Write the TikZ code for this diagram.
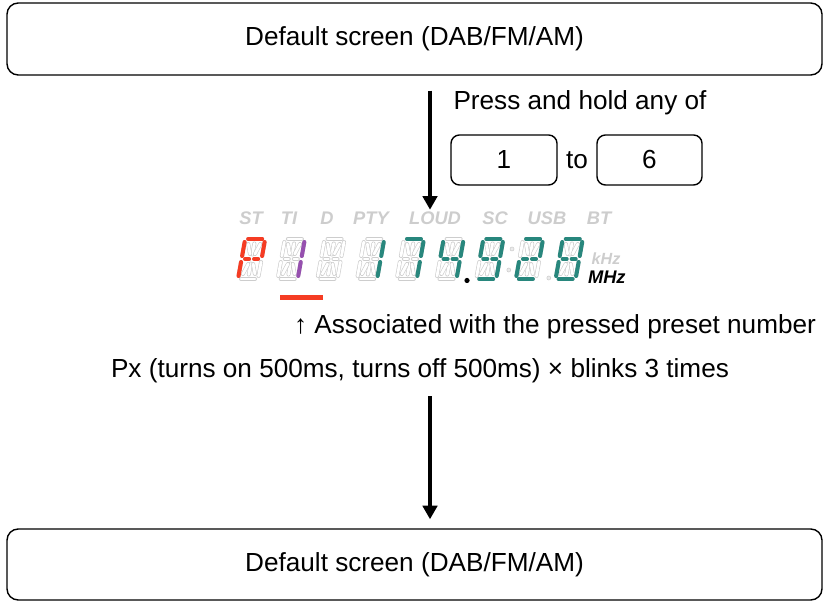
\documentclass[tikz,border=0pt]{standalone}
\usepackage{fontspec}
\setmainfont{Liberation Sans}
\usetikzlibrary{arrows.meta}
\definecolor{lcdred}{RGB}{245, 60, 35}
\definecolor{lcdpurple}{RGB}{150, 80, 175}
\definecolor{lcdteal}{RGB}{40, 135, 125}
\definecolor{lcdgray}{RGB}{205, 205, 205}

% centre lines of the 14 segments of one cell (local units)
\expandafter\def\csname lcdsega\endcsname{(3,40) -- (17,40)}
\expandafter\def\csname lcdsegb\endcsname{(20,37) -- (20,23)}
\expandafter\def\csname lcdsegc\endcsname{(20,17) -- (20,3)}
\expandafter\def\csname lcdsegd\endcsname{(3,0) -- (17,0)}
\expandafter\def\csname lcdsege\endcsname{(0,17) -- (0,3)}
\expandafter\def\csname lcdsegf\endcsname{(0,37) -- (0,23)}
\expandafter\def\csname lcdsegg\endcsname{(3.5,20) -- (7.5,20)}
\expandafter\def\csname lcdsegh\endcsname{(12.5,20) -- (16.5,20)}
\expandafter\def\csname lcdsegi\endcsname{(10,35.5) -- (10,24.5)}
\expandafter\def\csname lcdsegj\endcsname{(10,15.5) -- (10,4.5)}
\expandafter\def\csname lcdsegk\endcsname{(4,35) -- (7.5,25)}
\expandafter\def\csname lcdsegl\endcsname{(16,35) -- (12.5,25)}
\expandafter\def\csname lcdsegm\endcsname{(4,5) -- (7.5,15)}
\expandafter\def\csname lcdsegn\endcsname{(16,5) -- (12.5,15)}
\newcommand{\lcdpath}[1]{\csname lcdseg#1\endcsname}

% empty cell: every segment as a pale outline
\newcommand{\lcdcell}[1]{%
  \begin{scope}[lcdcell=#1]
    \foreach \s in {a,b,c,d,e,f,g,h,i,j,k,l,m,n}
      \draw[segoff] \lcdpath{\s};
  \end{scope}}
% lit segments of a cell
\newcommand{\lcdlit}[3]{%
  \begin{scope}[lcdcell=#1]
    \foreach \s in {#3}
      \draw[segon=#2] \lcdpath{\s};
  \end{scope}}

\begin{document}
\begin{tikzpicture}[
    font=\fontsize{18.6}{22}\selectfont,
    screenbox/.style={draw, line width=1pt, rounded corners=8pt, minimum width=20.375cm},
    keybox/.style={draw, line width=1pt, rounded corners=6pt, minimum height=1.25cm},
    flow/.style={-{Triangle[width=0.36cm, length=0.34cm]}, line width=2.4pt},
    lcdicon/.style={font=\fontsize{13}{13}\selectfont\bfseries\itshape, text=lcdgray},
    segoff/.style={draw=lcdgray, line width=0.45pt, double=white, double distance=1.95pt, line cap=round},
    segon/.style={draw=#1, line width=2.85pt, line cap=round},
    lcdcell/.style={shift={(5.95+0.9925*#1, 8.075)}, xslant=0.18, scale=0.025}
  ]
  \useasboundingbox (0,0) rectangle (20.65,15.05);

  % Start screen and key press
  \node[screenbox, minimum height=1.8cm] (scrtop) at (10.3625, 14.075) {Default screen (DAB/FM/AM)};
  \node (presstext) at (14.5, 12.475) {Press and hold any of};
  \node[keybox, minimum width=2.65cm] (keyone) at (12.6, 11.05) {1};
  \node (keyto) at (14.425, 11.05) {to};
  \node[keybox, minimum width=2.625cm] (keysix) at (16.2375, 11.05) {6};

  % Display
  \node[minimum width=9.75cm, minimum height=2.25cm] (lcd) at (10.75, 8.675) {};
  \foreach \t/\x in {ST/6.275, TI/7.225, D/8.175, PTY/9.275, LOUD/10.875, SC/12.375, USB/13.675, BT/14.975}
    \node[lcdicon] (icon\t) at (\x, 9.6) {\t};

  \foreach \c in {0,...,8}
    \lcdcell{\c};
  \lcdlit{0}{lcdred}{a,b,e,f,g,h}
  \lcdlit{1}{lcdpurple}{b,c}
  \lcdlit{3}{lcdteal}{b,c}
  \lcdlit{4}{lcdteal}{a,b,c}
  \lcdlit{5}{lcdteal}{b,c,f,g,h}
  \lcdlit{6}{lcdteal}{a,b,c,d,f,g,h}
  \lcdlit{7}{lcdteal}{a,b,d,e,g,h}
  \lcdlit{8}{lcdteal}{a,b,c,d,e,f,g,h}

  \fill (11.675, 8.0375) circle (0.065);
  \draw[lcdgray, fill=lcdgray!40] (12.8, 8.825) circle (0.05);
  \draw[lcdgray, fill=lcdgray!40] (12.72, 8.3) circle (0.05);
  \draw[lcdgray, fill=lcdgray!40] (13.72, 8.1) circle (0.05);

  \node[lcdicon, inner sep=0pt, font=\fontsize{11.5}{11.5}\selectfont\bfseries\itshape] (khz) at (15.15, 8.58) {kHz};
  \node[lcdicon, inner sep=0pt, text=black] (mhz) at (15.17, 8.12) {MHz};

  % preset marker
  \fill[lcdred] (7.0, 7.55) rectangle (8.075, 7.675);

  % Notes
  \node (assoc) at (13.875, 6.875) {↑ Associated with the pressed preset number};
  \node (blink) at (10.5, 5.775) {Px (turns on 500ms, turns off 500ms) × blinks 3 times};

  % Return to start screen
  \node[screenbox, minimum height=1.775cm] (scrbottom) at (10.3625, 0.9375) {Default screen (DAB/FM/AM)};

  \draw[flow, shorten <=0.375cm] (scrtop.south -| lcd.north) -- (lcd.north);
  \draw[flow, shorten <=0.2cm, shorten >=0.225cm] (blink.south -| lcd.north) -- (scrbottom.north -| lcd.north);
\end{tikzpicture}
\end{document}
